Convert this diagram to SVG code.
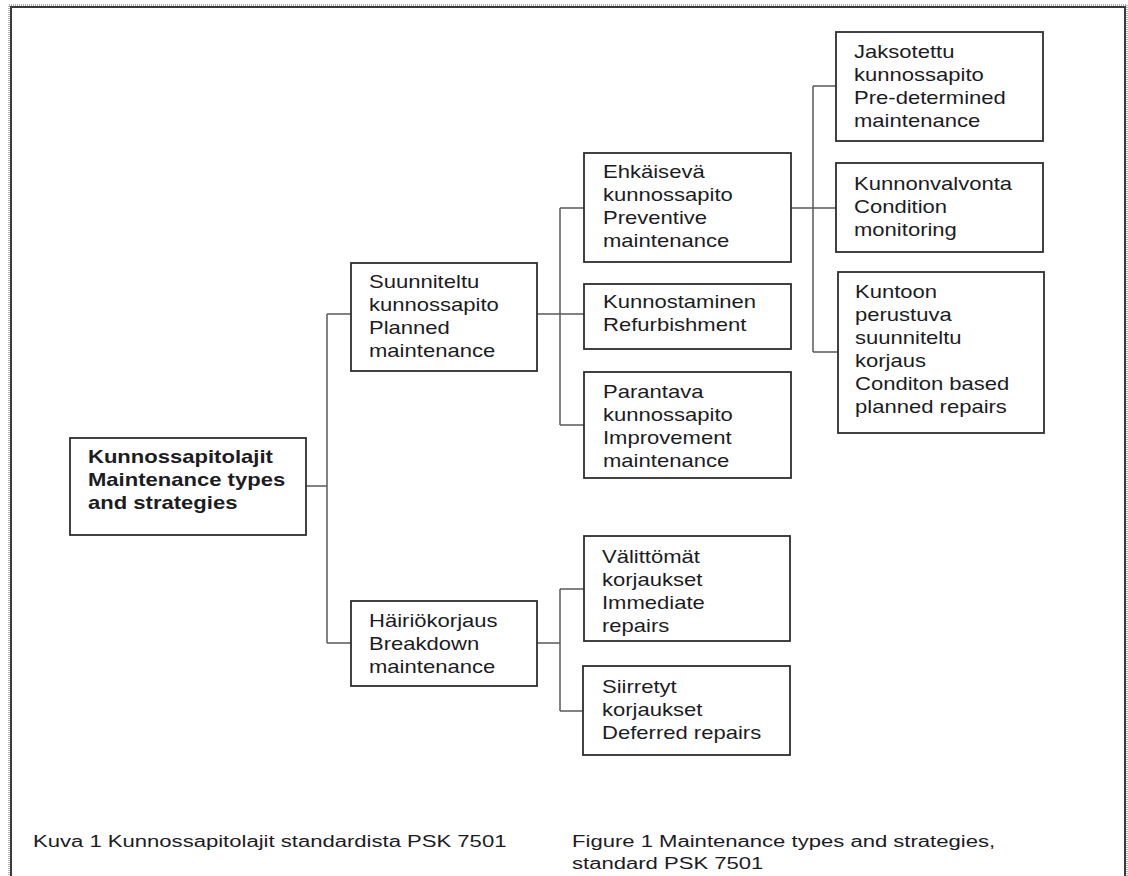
<svg xmlns="http://www.w3.org/2000/svg" width="1128" height="876" viewBox="0 0 1128 876">
<defs>
<style>
.box{fill:#fff;stroke:#2e2e2e;stroke-width:1.8}
.conn{fill:none;stroke:#5a5a5a;stroke-width:1.5}
.t{font-family:"Liberation Sans",Arial,sans-serif;font-size:17.5px;fill:#1c1c24}
.b{font-weight:bold}
.cap{font-family:"Liberation Sans",Arial,sans-serif;font-size:16px;fill:#1c1c24}
</style>
</defs>
<rect x="0" y="0" width="1128" height="876" fill="#fff"/>
<rect x="9" y="5" width="1118" height="900" fill="none" stroke="#999" stroke-width="1.5" stroke-dasharray="1 1"/>
<rect x="11" y="7" width="1114" height="900" fill="none" stroke="#3a3a3a" stroke-width="2"/>

<g id="connectors">
<path class="conn" d="M306,486 H327 M327,314 V643 M327,314 H351 M327,643 H351"/>
<path class="conn" d="M537,314 H584 M560,208 V425 M560,208 H584 M560,425 H584"/>
<path class="conn" d="M791,208 H836 M813,86 V352 M813,86 H836 M813,352 H838"/>
<path class="conn" d="M537,643 H560 M560,589 V711 M560,589 H584 M560,711 H583"/>
</g>

<g id="root">
<rect class="box" x="70" y="438" width="236" height="97"/>
<text class="t b" transform="translate(88,463) scale(1.26,1)"><tspan x="0">Kunnossapitolajit</tspan><tspan x="0" dy="23">Maintenance types</tspan><tspan x="0" dy="23">and strategies</tspan></text>
</g>

<g id="planned">
<rect class="box" x="351" y="263" width="186" height="108"/>
<text class="t" transform="translate(369,288) scale(1.26,1)"><tspan x="0">Suunniteltu</tspan><tspan x="0" dy="23">kunnossapito</tspan><tspan x="0" dy="23">Planned</tspan><tspan x="0" dy="23">maintenance</tspan></text>
</g>

<g id="breakdown">
<rect class="box" x="351" y="601" width="186" height="85"/>
<text class="t" transform="translate(369,627) scale(1.26,1)"><tspan x="0">Häiriökorjaus</tspan><tspan x="0" dy="23">Breakdown</tspan><tspan x="0" dy="23">maintenance</tspan></text>
</g>

<g id="preventive">
<rect class="box" x="584" y="153" width="207" height="109"/>
<text class="t" transform="translate(603,178) scale(1.26,1)"><tspan x="0">Ehkäisevä</tspan><tspan x="0" dy="23">kunnossapito</tspan><tspan x="0" dy="23">Preventive</tspan><tspan x="0" dy="23">maintenance</tspan></text>
</g>

<g id="refurbishment">
<rect class="box" x="584" y="284" width="207" height="65"/>
<text class="t" transform="translate(603,308) scale(1.26,1)"><tspan x="0">Kunnostaminen</tspan><tspan x="0" dy="23">Refurbishment</tspan></text>
</g>

<g id="improvement">
<rect class="box" x="584" y="372" width="207" height="106"/>
<text class="t" transform="translate(603,398) scale(1.26,1)"><tspan x="0">Parantava</tspan><tspan x="0" dy="23">kunnossapito</tspan><tspan x="0" dy="23">Improvement</tspan><tspan x="0" dy="23">maintenance</tspan></text>
</g>

<g id="predetermined">
<rect class="box" x="836" y="32" width="207" height="109"/>
<text class="t" transform="translate(854,58) scale(1.26,1)"><tspan x="0">Jaksotettu</tspan><tspan x="0" dy="23">kunnossapito</tspan><tspan x="0" dy="23">Pre-determined</tspan><tspan x="0" dy="23">maintenance</tspan></text>
</g>

<g id="condition-monitoring">
<rect class="box" x="836" y="163" width="207" height="89"/>
<text class="t" transform="translate(854,190) scale(1.26,1)"><tspan x="0">Kunnonvalvonta</tspan><tspan x="0" dy="23">Condition</tspan><tspan x="0" dy="23">monitoring</tspan></text>
</g>

<g id="condition-based">
<rect class="box" x="838" y="272" width="206" height="161"/>
<text class="t" transform="translate(855,298) scale(1.26,1)"><tspan x="0">Kuntoon</tspan><tspan x="0" dy="23">perustuva</tspan><tspan x="0" dy="23">suunniteltu</tspan><tspan x="0" dy="23">korjaus</tspan><tspan x="0" dy="23">Conditon based</tspan><tspan x="0" dy="23">planned repairs</tspan></text>
</g>

<g id="immediate">
<rect class="box" x="584" y="536" width="206" height="105"/>
<text class="t" transform="translate(602,563) scale(1.26,1)"><tspan x="0">Välittömät</tspan><tspan x="0" dy="23">korjaukset</tspan><tspan x="0" dy="23">Immediate</tspan><tspan x="0" dy="23">repairs</tspan></text>
</g>

<g id="deferred">
<rect class="box" x="583" y="666" width="207" height="89"/>
<text class="t" transform="translate(602,693) scale(1.26,1)"><tspan x="0">Siirretyt</tspan><tspan x="0" dy="23">korjaukset</tspan><tspan x="0" dy="23">Deferred repairs</tspan></text>
</g>

<g id="captions">
<text class="cap" transform="translate(33,847) scale(1.38,1)">Kuva 1 Kunnossapitolajit standardista PSK 7501</text>
<text class="cap" transform="translate(572,847) scale(1.38,1)"><tspan x="0">Figure 1 Maintenance types and strategies,</tspan><tspan x="0" dy="22">standard PSK 7501</tspan></text>
</g>
</svg>
